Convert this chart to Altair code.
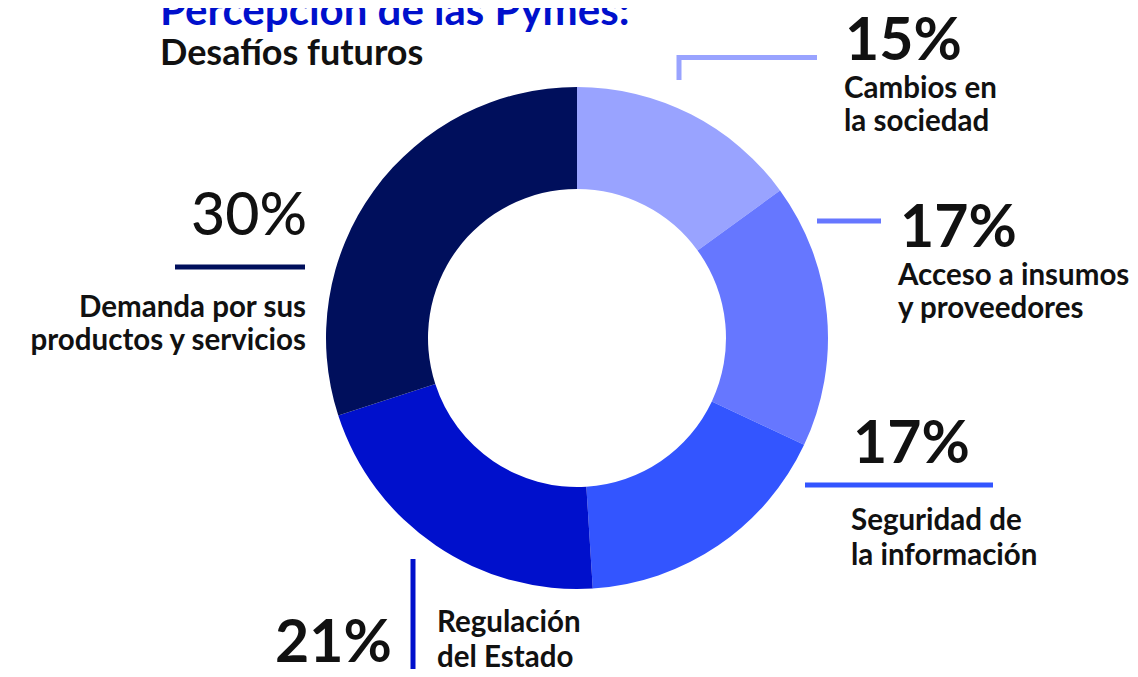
import altair as alt
import pandas as pd

categories = [
    "Cambios en\nla sociedad",
    "Acceso a insumos\ny proveedores",
    "Seguridad de\nla información",
    "Regulación\ndel Estado",
    "Demanda por sus\nproductos y servicios",
]
values = [15, 17, 17, 21, 30]
colors = ["#99A3FF", "#6677FF", "#3355FF", "#0010CC", "#000F5C"]
title_1 = "Percepción de las Pymes:"
title_2 = "Desafíos futuros"

df = pd.DataFrame({
    "category": categories,
    "value": values,
    "idx": list(range(len(values))),
    "pct": [f"{v}%" for v in values],
})

W, H = 1122, 661
CX, CY = 569, 330
FONT = "Lato"

donut = alt.Chart(df).mark_arc(radius=251, radius2=149, stroke=None).encode(
    theta=alt.Theta("value:Q", stack=True),
    color=alt.Color("category:N", scale=alt.Scale(domain=categories, range=colors), legend=None),
    order=alt.Order("idx:Q"),
    x=alt.value(CX),
    y=alt.value(CY),
)

def row(i):
    return df.iloc[[i]]

layers = [donut]

# title
tdf = pd.DataFrame({"t": [title_1, title_2]})
layers.append(alt.Chart(tdf).transform_filter(alt.datum.t == title_1).mark_text(
    font=FONT, fontSize=42, fontWeight="bold", color="#0010CC", align="left", baseline="alphabetic"
).encode(text="t:N", x=alt.value(152), y=alt.value(17)))
layers.append(alt.Chart(tdf).transform_filter(alt.datum.t == title_2).mark_text(
    font=FONT, fontSize=36, fontWeight="bold", color="#111111", align="left", baseline="alphabetic"
).encode(text="t:N", x=alt.value(152), y=alt.value(57)))

# label specs: (index, pct x, pct y, pct align, pct weight, label x, label y, align, line height)
specs = [
    (0, 837, 52, "left", "bold", 836, 90, "left", 33),
    (1, 892, 239, "left", "bold", 890, 277, "left", 33),
    (2, 845, 455, "left", "bold", 843, 522, "left", 35),
    (3, 267, 654, "left", "bold", 429, 624, "left", 35),
    (4, 299, 227, "right", 500, 298, 309, "right", 33),
]
for (i, px, py, pa, pw, lx, ly, la, lh) in specs:
    d = row(i)
    layers.append(alt.Chart(d).mark_text(
        font=FONT, fontSize=59, fontWeight=pw, color="#111111", align=pa, baseline="alphabetic"
    ).encode(text="pct:N", x=alt.value(px), y=alt.value(py)))
    layers.append(alt.Chart(d).mark_text(
        font=FONT, fontSize=29.5, fontWeight="bold", color="#111111", align=la, baseline="alphabetic",
        lineBreak="\n", lineHeight=lh
    ).encode(text="category:N", x=alt.value(lx), y=alt.value(ly)))

# leader lines
rules = [
    (0, 669, 809, 49.5, 49.5),
    (0, 671, 671, 47, 72),
    (1, 809, 873, 213, 213),
    (2, 797, 985, 477, 477),
    (3, 405, 405, 551, 661),
    (4, 167, 297, 259, 259),
]
for (i, x1, x2, y1, y2) in rules:
    d = row(i)
    layers.append(alt.Chart(d).mark_rule(strokeWidth=5).encode(
        x=alt.value(x1), x2=alt.value(x2), y=alt.value(y1), y2=alt.value(y2),
        color=alt.Color("category:N", scale=alt.Scale(domain=categories, range=colors), legend=None),
    ))

chart = alt.layer(*layers).properties(
    width=W, height=H, padding=0, autosize=alt.AutoSizeParams(type="none")
).configure_view(stroke=None)

chart.save("out.html", embed_options={"renderer": "svg", "actions": False})
